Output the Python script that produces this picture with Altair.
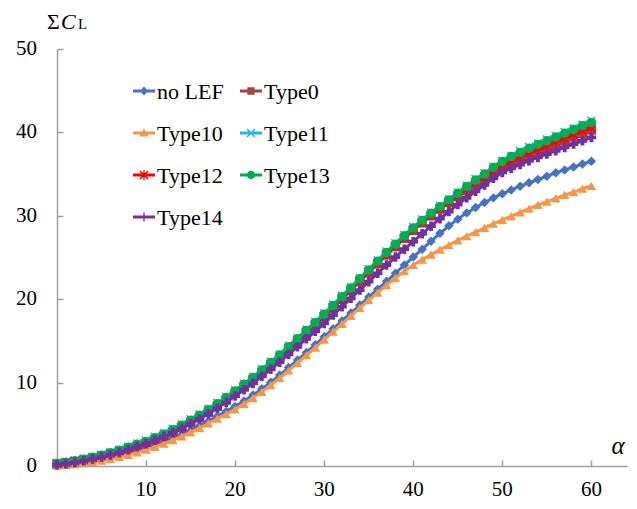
import altair as alt
import pandas as pd

# ---------------- data ----------------
alpha = list(range(0, 61))

no_lef = [0.10, 0.18, 0.29, 0.42, 0.57, 0.75, 0.96, 1.20, 1.47, 1.77,
          2.10, 2.46, 2.86, 3.29, 3.76, 4.27, 4.81, 5.38, 5.98, 6.55,
          7.15, 7.80, 8.50, 9.25, 10.05, 10.90, 11.80, 12.70, 13.62, 14.55,
          15.50, 16.45, 17.40, 18.35, 19.30, 20.25, 21.20, 22.15, 23.10, 24.10,
          25.05, 26.00, 26.95, 27.90, 28.80, 29.60, 30.35, 31.00, 31.60, 32.15,
          32.65, 33.10, 33.55, 33.95, 34.35, 34.75, 35.15, 35.50, 35.85, 36.20, 36.55]

type0 = [0.22, 0.36, 0.52, 0.70, 0.91, 1.15, 1.41, 1.71, 2.03, 2.36,
         2.70, 3.12, 3.56, 4.05, 4.60, 5.20, 5.80, 6.45, 7.15, 7.90,
         8.70, 9.50, 10.30, 11.20, 12.10, 13.00, 14.00, 14.95, 15.95, 16.90,
         17.90, 18.95, 20.00, 21.05, 22.15, 23.20, 24.25, 25.30, 26.30, 27.30,
         28.25, 29.15, 30.00, 30.80, 31.60, 32.30, 33.00, 33.70, 34.35, 35.00,
         35.65, 36.20, 36.70, 37.20, 37.65, 38.10, 38.55, 39.00, 39.45, 39.90, 40.30]

type10 = [0.05, 0.12, 0.22, 0.34, 0.48, 0.65, 0.85, 1.08, 1.34, 1.63,
          1.95, 2.30, 2.68, 3.10, 3.55, 4.03, 4.55, 5.10, 5.68, 6.22,
          6.80, 7.45, 8.15, 8.90, 9.70, 10.55, 11.45, 12.35, 13.28, 14.20,
          15.15, 16.10, 17.05, 18.00, 18.95, 19.90, 20.80, 21.70, 22.55, 23.35,
          24.10, 24.75, 25.35, 25.95, 26.50, 27.05, 27.55, 28.05, 28.55, 29.05,
          29.50, 29.95, 30.40, 30.85, 31.30, 31.70, 32.10, 32.50, 32.85, 33.25, 33.60]

type11 = [0.35, 0.50, 0.68, 0.88, 1.11, 1.37, 1.66, 1.98, 2.33, 2.69,
          3.05, 3.50, 3.95, 4.45, 5.00, 5.60, 6.20, 6.85, 7.55, 8.30,
          9.10, 9.90, 10.70, 11.60, 12.50, 13.40, 14.40, 15.35, 16.35, 17.30,
          18.30, 19.35, 20.40, 21.45, 22.55, 23.60, 24.65, 25.70, 26.70, 27.70,
          28.65, 29.55, 30.40, 31.20, 32.00, 32.80, 33.60, 34.40, 35.10, 35.90,
          36.60, 37.20, 37.75, 38.25, 38.70, 39.15, 39.60, 40.05, 40.50, 40.95, 41.40]

type12 = [0.25, 0.40, 0.56, 0.75, 0.97, 1.21, 1.48, 1.79, 2.12, 2.46,
          2.80, 3.23, 3.67, 4.16, 4.70, 5.30, 5.90, 6.55, 7.25, 8.00,
          8.80, 9.60, 10.40, 11.30, 12.20, 13.10, 14.10, 15.05, 16.05, 17.00,
          18.00, 19.05, 20.10, 21.15, 22.25, 23.30, 24.35, 25.40, 26.40, 27.40,
          28.35, 29.25, 30.10, 30.90, 31.70, 32.45, 33.20, 33.95, 34.60, 35.30,
          35.95, 36.50, 37.00, 37.50, 37.95, 38.40, 38.85, 39.30, 39.75, 40.20, 40.60]

type13 = [0.30, 0.45, 0.62, 0.82, 1.05, 1.30, 1.58, 1.90, 2.25, 2.60,
          2.95, 3.40, 3.85, 4.35, 4.90, 5.50, 6.10, 6.75, 7.45, 8.20,
          9.00, 9.80, 10.60, 11.50, 12.40, 13.30, 14.30, 15.25, 16.25, 17.20,
          18.20, 19.25, 20.30, 21.35, 22.45, 23.50, 24.55, 25.60, 26.60, 27.60,
          28.55, 29.45, 30.30, 31.10, 31.90, 32.70, 33.50, 34.30, 35.00, 35.80,
          36.50, 37.10, 37.60, 38.10, 38.55, 39.00, 39.45, 39.90, 40.35, 40.80, 41.20]

type14 = [0.15, 0.28, 0.43, 0.62, 0.83, 1.07, 1.33, 1.63, 1.96, 2.31,
          2.68, 3.10, 3.53, 4.00, 4.52, 5.08, 5.65, 6.26, 6.93, 7.64,
          8.40, 9.15, 9.90, 10.75, 11.60, 12.45, 13.40, 14.30, 15.25, 16.15,
          17.10, 18.10, 19.10, 20.10, 21.10, 22.10, 23.10, 24.10, 25.05, 26.00,
          26.90, 27.85, 28.75, 29.65, 30.50, 31.35, 32.15, 32.95, 33.70, 34.50,
          35.20, 35.70, 36.15, 36.60, 37.00, 37.40, 37.80, 38.20, 38.60, 39.00, 39.40]

series_names = ["no LEF", "Type0", "Type10", "Type11", "Type12", "Type13", "Type14"]
series_values = [no_lef, type0, type10, type11, type12, type13, type14]
colors = ["#4472C4", "#A5443F", "#F79646", "#1FB5F0", "#FF0000", "#00B050", "#7030A0"]

x_ticks = [10, 20, 30, 40, 50, 60]
y_ticks = [0, 10, 20, 30, 40, 50]

# marker shapes on the curves
X_PATH = ("M-0.74,-0.96L0.96,0.74L0.74,0.96L-0.96,-0.74Z "
          "M-0.96,0.74L0.74,-0.96L0.96,-0.74L-0.74,0.96Z")
AST_PATH = X_PATH + " M-0.15,-1L0.15,-1L0.15,1L-0.15,1Z"
chart_shapes = ["diamond", "square", "triangle-up", X_PATH, AST_PATH, "circle", "cross"]

# legend symbols: line segment + small marker
BAR = "M-1,-0.13L1,-0.13L1,0.13L-1,0.13Z "
LX = "M-0.31,-0.41L0.41,0.31L0.31,0.41L-0.41,-0.31Z M-0.41,0.31L0.31,-0.41L0.41,-0.31L-0.31,0.41Z "
legend_shapes = [
    BAR + "M0,-0.42L0.36,0L0,0.42L-0.36,0Z",
    BAR + "M-0.33,-0.33L0.33,-0.33L0.33,0.33L-0.33,0.33Z",
    BAR + "M0,-0.42L0.42,0.32L-0.42,0.32Z",
    BAR + LX,
    BAR + LX + "M-0.06,-0.45L0.06,-0.45L0.06,0.45L-0.06,0.45Z",
    BAR + "M-0.38,0A0.38,0.38,0,1,1,0.38,0A0.38,0.38,0,1,1,-0.38,0Z",
    BAR + "M-0.06,-0.42L0.06,-0.42L0.06,0.42L-0.06,0.42Z",
]

rows = []
for name, vals in zip(series_names, series_values):
    for a, v in zip(alpha, vals):
        rows.append({"alpha": a, "CL": v, "series": name})
df = pd.DataFrame(rows)

# ---------------- chart ----------------
W, H = 570, 417
FONT = "Times New Roman"
AXIS_GRAY = "#A0A0A0"

xscale = alt.Scale(domain=[0, 64], nice=False, zero=False)
yscale = alt.Scale(domain=[0, 50], nice=False)
color_scale = alt.Scale(domain=series_names, range=colors)
shape_scale = alt.Scale(domain=series_names, range=chart_shapes)
legend_shape_scale = alt.Scale(domain=series_names, range=legend_shapes)

x_main = alt.X("alpha:Q", scale=xscale,
               axis=alt.Axis(orient="bottom", values=x_ticks, ticks=False, tickSize=0,
                             labels=False, domainColor=AXIS_GRAY, domainWidth=1.5,
                             grid=False, title=None))
y_main = alt.Y("CL:Q", scale=yscale,
               axis=alt.Axis(orient="left", values=y_ticks, ticks=False, tickSize=0,
                             labels=False, domainColor=AXIS_GRAY, domainWidth=1.5,
                             grid=False, title=None))

base = alt.Chart(df)
series_layers = []
for name in series_names:
    sub = base.transform_filter(alt.datum.series == name)
    line = sub.mark_line(strokeWidth=3).encode(
        x=x_main, y=y_main,
        color=alt.Color("series:N", scale=color_scale, legend=None),
    )
    pts = sub.mark_point(filled=True, size=90, opacity=1).encode(
        x=x_main, y=y_main,
        color=alt.Color("series:N", scale=color_scale, legend=None),
        shape=alt.Shape("series:N", scale=shape_scale, legend=None),
    )
    series_layers.append(line)
    series_layers.append(pts)
inner = alt.layer(*series_layers)

# tick labels drawn as text through the shared scales
x_labels = alt.Chart(pd.DataFrame({"v": x_ticks})).mark_text(
    font=FONT, fontSize=21, color="black", baseline="middle", align="center"
).encode(x=alt.X("v:Q", scale=xscale, axis=None), y=alt.value(H + 24), text="v:Q")
y_labels = alt.Chart(pd.DataFrame({"v": y_ticks})).mark_text(
    font=FONT, fontSize=21, color="black", baseline="middle", align="right"
).encode(y=alt.Y("v:Q", scale=yscale, axis=None), x=alt.value(-20), text="v:Q")

# legend supplies the symbols only; its labels are empty
legend_def = alt.Legend(orient="none", legendX=76, legendY=31, columns=2, direction="horizontal",
                        title=None, labelExpr="''", labelFontSize=22,
                        symbolSize=484, symbolStrokeWidth=0, labelOffset=2,
                        rowPadding=20, columnPadding=83, padding=0)

legend_layer = base.transform_filter("false").mark_point(filled=True, opacity=1).encode(
    x=alt.X("alpha:Q", scale=xscale,
            axis=alt.Axis(orient="top", offset=-H, values=x_ticks, labels=False,
                          domain=False, tickSize=6, tickColor=AXIS_GRAY, tickWidth=1.5,
                          grid=False, title=None)),
    y=alt.Y("CL:Q", scale=yscale,
            axis=alt.Axis(orient="right", offset=-W, values=y_ticks, labels=False,
                          domain=False, tickSize=6, tickColor=AXIS_GRAY, tickWidth=1.5,
                          grid=False, title=None)),
    color=alt.Color("series:N", scale=color_scale, legend=legend_def),
    shape=alt.Shape("series:N", scale=legend_shape_scale, legend=legend_def),
)

def label(txt, x, y, size, style="normal", align="left", baseline="alphabetic"):
    return alt.Chart(pd.DataFrame({"t": [txt]})).mark_text(
        font=FONT, fontSize=size, fontStyle=style, color="black",
        align=align, baseline=baseline
    ).encode(x=alt.value(x), y=alt.value(y), text="t:N")

# legend label texts, placed on the legend rows
legend_label_layers = []
col_x = [100, 207]
row_y = [42, 84, 126, 168]
for i, name in enumerate(series_names):
    legend_label_layers.append(
        label(name, col_x[i % 2], row_y[i // 2] + 1, 22, baseline="middle"))

t_sigma = label("Σ", -10, -20, 22)
t_c = label("C", 4, -20, 22, "italic")
t_l = label("L", 21, -20, 15)
t_alpha = label("α", 561, 405, 25, "italic", "center")

chart = alt.layer(inner, legend_layer, x_labels, y_labels, *legend_label_layers,
                  t_sigma, t_c, t_l, t_alpha).resolve_scale(
    color="independent", shape="independent"
).resolve_axis(
    x="independent", y="independent"
).properties(
    width=W, height=H,
    padding={"left": 49, "top": 41, "right": 2, "bottom": 35},
    autosize=alt.AutoSizeParams(type="none"),
).configure_view(stroke=None)

chart.save("out.html", embed_options={"renderer": "svg", "actions": False})
